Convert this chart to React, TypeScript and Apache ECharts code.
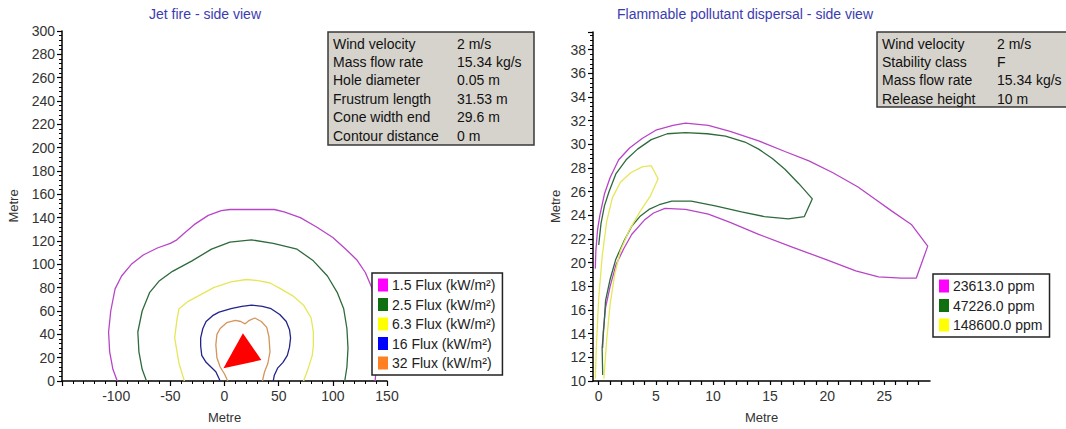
import React, { useEffect, useRef } from "react";
import * as echarts from "echarts";

// ---------- Data ----------
const fluxNames = [
  "1.5 Flux (kW/m²)",
  "2.5 Flux (kW/m²)",
  "6.3 Flux (kW/m²)",
  "16 Flux (kW/m²)",
  "32 Flux (kW/m²)",
];
const fluxColors = ["#ff00ff", "#107010", "#ffff00", "#0000ff", "#ff8020"];
const fluxLineColors = ["#b845c8", "#2e6a3a", "#e6e65a", "#23238c", "#d3955a"];

const flux15: number[][] = [
  [-99, 0], [-103, 10], [-106, 25], [-107, 42], [-105, 60], [-101, 79], [-95, 90],
  [-86, 100], [-75, 108], [-62, 114], [-50, 118], [-44, 121], [-38, 126], [-28, 134],
  [-15, 142], [-3, 146], [5, 147], [25, 147], [46, 147], [55, 145], [70, 140],
  [85, 132], [100, 123], [112, 113], [122, 104], [130, 93], [136, 80], [140, 60],
  [141, 40], [141, 20], [139, 0],
];
const flux25: number[][] = [
  [-72, 0], [-76, 10], [-79, 25], [-80, 42], [-76, 60], [-69, 76], [-60, 86],
  [-48, 94], [-30, 103], [-12, 113], [5, 119], [25, 121], [45, 118], [67, 113],
  [82, 103], [95, 90], [104, 76], [110, 62], [113, 45], [114, 28], [113, 12], [111, 0],
];
const flux63: number[][] = [
  [-37, 0], [-42, 15], [-46, 37], [-44, 52], [-42, 62], [-34, 68], [-24, 73],
  [-10, 80], [6, 85], [20, 87], [31, 86], [42, 84], [52, 79], [63, 73], [73, 65],
  [80, 54], [82, 42], [82, 30], [81, 22], [77, 10], [73, 0],
];
const flux16: number[][] = [
  [-4, 0], [-8, 8], [-17, 16], [-21, 22], [-22, 30], [-22, 37], [-20, 45], [-17, 51],
  [-11, 56], [-5, 59], [6, 62], [16, 64], [25, 65], [35, 64], [43, 62], [51, 57],
  [57, 51], [60, 44], [61, 37], [60, 29], [58, 22], [54, 16], [49, 11], [46, 5], [45, 0],
];
const flux32: number[][] = [
  [3, 0], [0, 6], [-4, 12], [-7, 20], [-8, 31], [-7, 40], [-4, 45], [2, 50], [10, 52],
  [15, 51], [19, 49], [23, 52], [28, 54], [34, 51], [39, 46], [41, 38], [42, 25],
  [40, 15], [37, 8], [35, 0],
];
const flameCone: number[][] = [[17, 41], [-1, 11], [34, 18]];

const ppmNames = ["23613.0 ppm", "47226.0 ppm", "148600.0 ppm"];
const ppmColors = ["#ff00ff", "#107010", "#ffff00"];
const ppmLineColors = ["#b845c8", "#2e6a3a", "#e6e65a"];

const ppm23613: number[][] = [
  [-0.3, 19.5], [-0.25, 21], [-0.1, 22.8], [0.1, 24], [0.5, 25.8], [1.0, 27.2],
  [1.75, 28.7], [2.7, 29.7], [3.8, 30.5], [5, 31.2], [6.5, 31.6], [7.6, 31.8],
  [9.6, 31.6], [11.5, 31.1], [14, 30.3], [16.3, 29.4], [18.4, 28.6], [20.5, 27.6],
  [22.7, 26.4], [24.3, 25.3], [25.6, 24.4], [27.4, 23.2], [28.8, 21.4], [27.8, 18.7],
  [26.5, 18.7], [24.5, 18.8], [22.5, 19.3], [19.8, 20.3], [17, 21.3], [14, 22.4],
  [11.5, 23.4], [9.6, 24.1], [7.6, 24.5], [5.8, 24.6], [4.8, 24.2], [4, 23.6],
  [2.9, 22.4], [2.2, 21.2], [1.5, 19.8], [1.0, 18], [0.6, 16.2], [0.4, 14.2], [0.35, 12.8],
];
const ppm47226: number[][] = [
  [0, 21.5], [0.2, 23.3], [0.5, 24.8], [0.9, 26], [1.5, 27.5], [2.4, 28.7], [3.4, 29.6],
  [4.6, 30.4], [6, 30.9], [7.6, 31.0], [9.5, 30.9], [11.1, 30.7], [12.8, 30.2],
  [14, 29.6], [15.2, 28.8], [16.3, 27.9], [17.5, 26.7], [18.7, 25.4], [18.0, 23.9],
  [16.6, 23.7], [14.5, 23.9], [12.5, 24.3], [10.2, 24.8], [8.1, 25.2], [6.4, 25.2],
  [5.3, 24.9], [4.4, 24.5], [3.6, 23.9], [2.9, 23.1], [2.2, 21.8], [1.5, 20.3],
  [1.0, 18.6], [0.6, 16.8], [0.45, 14.5], [0.3, 12.8], [0.35, 10.5],
];
const ppm148600: number[][] = [
  [-0.3, 10.2], [-0.2, 13], [0, 17], [0.3, 20.5], [0.7, 23.5], [1.2, 25.5], [1.9, 26.8],
  [2.8, 27.6], [3.8, 28.1], [4.6, 28.2], [5.2, 27.1], [4.5, 25.6], [3.6, 24.3],
  [2.7, 22.8], [1.9, 21], [1.4, 19], [1.0, 16.5], [0.7, 13.5], [0.45, 10.2],
];

const jetInfoLabels = ["Wind velocity", "Mass flow rate", "Hole diameter", "Frustrum length", "Cone width end", "Contour distance"];
const jetInfoValues = ["2 m/s", "15.34 kg/s", "0.05 m", "31.53 m", "29.6 m", "0 m"];
const dispInfoLabels = ["Wind velocity", "Stability class", "Mass flow rate", "Release height"];
const dispInfoValues = ["2 m/s", "F", "15.34 kg/s", "10 m"];

const rightXLabels = [0, 5, 10, 15, 20, 25];
const rightXTicks = [0, 1, 2, 3, 4, 5, 6, 7, 8, 9, 10, 11, 12, 13, 14, 15, 16, 17, 18, 19, 20, 21, 22, 23, 24, 25, 26, 27, 28];

// ---------- Chart ----------
const FONT = "'Liberation Sans', Arial, sans-serif";
const FS = 14;

function infoBox(x: number, y: number, w: number, h: number, labels: string[], values: string[], col2: number, rowH: number) {
  const children: any[] = [
    {
      type: "rect",
      shape: { x, y, width: w, height: h },
      style: { fill: "#d6d3cc", stroke: "#3a3a3a", lineWidth: 1.5 },
    },
  ];
  labels.forEach((t, i) => {
    children.push({
      type: "text",
      x: x + 5,
      y: y + 11.5 + i * rowH,
      style: { text: t, fill: "#111", font: `${FS}px ${FONT}`, verticalAlign: "middle" },
    });
    children.push({
      type: "text",
      x: x + col2,
      y: y + 11.5 + i * rowH,
      style: { text: values[i], fill: "#111", font: `${FS}px ${FONT}`, verticalAlign: "middle" },
    });
  });
  return { type: "group", children };
}

const axisCommon = {
  axisLine: { show: true, onZero: false, lineStyle: { color: "#000", width: 1.5 } },
  axisTick: { show: true, length: 5, lineStyle: { color: "#000", width: 1.2 } },
  minorTick: { show: true, splitNumber: 5, length: 3, lineStyle: { color: "#000", width: 1 } },
  splitLine: { show: false },
  minorSplitLine: { show: false },
  axisLabel: { color: "#333", fontSize: FS, fontFamily: FONT },
  nameTextStyle: { color: "#333", fontSize: FS - 1, fontFamily: FONT },
};

const legendCommon = {
  orient: "vertical",
  icon: "rect",
  itemWidth: 10,
  itemHeight: 13,
  itemGap: 5.5,
  padding: [5, 7, 5, 6],
  backgroundColor: "#ffffff",
  borderColor: "#222",
  borderWidth: 1.5,
  borderRadius: 0,
  selectedMode: false,
  textStyle: { color: "#222", fontSize: FS, fontFamily: FONT, padding: [0, 0, 0, -1] },
};

export default function App() {
  const ref = useRef<HTMLDivElement>(null);
  useEffect(() => {
    if (!ref.current) return;
    const chart = echarts.init(ref.current, null, { renderer: "svg" });
    const fluxData = [flux15, flux25, flux63, flux16, flux32];
    const ppmData = [ppm23613, ppm47226, ppm148600];
    const option: any = {
      animation: false,
      backgroundColor: "#ffffff",
      textStyle: { fontFamily: FONT },
      title: [
        {
          text: "Jet fire - side view",
          left: 200,
          top: 2,
          textAlign: "center",
          textStyle: { color: "#3c3cb0", fontSize: FS, fontWeight: "normal", fontFamily: FONT },
        },
        {
          text: "Flammable pollutant dispersal - side view",
          left: 740,
          top: 2,
          textAlign: "center",
          textStyle: { color: "#3c3cb0", fontSize: FS, fontWeight: "normal", fontFamily: FONT },
        },
      ],
      grid: [
        { left: 62, top: 31, width: 325, height: 352, containLabel: false },
        { left: 593, top: 32, width: 337, height: 351, containLabel: false },
      ],
      xAxis: [
        {
          ...axisCommon,
          type: "value",
          gridIndex: 0,
          min: -150,
          max: 150,
          interval: 50,
          name: "Metre",
          nameLocation: "middle",
          nameGap: 30,
          axisLabel: { ...axisCommon.axisLabel, showMinLabel: false, margin: 8 },
        },
        {
          ...axisCommon,
          type: "value",
          gridIndex: 1,
          min: -0.5,
          max: 29,
          name: "Metre",
          nameLocation: "middle",
          nameGap: 30,
          axisTick: { ...axisCommon.axisTick, length: 4, customValues: rightXTicks },
          minorTick: { show: false },
          axisLabel: { ...axisCommon.axisLabel, customValues: rightXLabels, margin: 8 },
        },
      ],
      yAxis: [
        {
          ...axisCommon,
          type: "value",
          gridIndex: 0,
          min: 0,
          max: 300,
          interval: 20,
          name: "Metre",
          nameLocation: "middle",
          nameGap: 42,
          axisLabel: { ...axisCommon.axisLabel, margin: 7 },
        },
        {
          ...axisCommon,
          type: "value",
          gridIndex: 1,
          min: 10,
          max: 39.5,
          interval: 2,
          name: "Metre",
          nameLocation: "middle",
          nameGap: 31,
          axisLabel: { ...axisCommon.axisLabel, showMaxLabel: false, margin: 7 },
        },
      ],
      legend: [
        { ...legendCommon, data: fluxNames, left: 372, top: 273 },
        { ...legendCommon, data: ppmNames, left: 933, top: 274 },
      ],
      graphic: [
        infoBox(328, 32, 206, 113, jetInfoLabels, jetInfoValues, 129, 18.4),
        infoBox(877, 32, 200, 75, dispInfoLabels, dispInfoValues, 120, 18.4),
      ],
      series: [
        ...fluxData.map((d, i) => ({
          type: "line",
          name: fluxNames[i],
          xAxisIndex: 0,
          yAxisIndex: 0,
          data: d,
          showSymbol: false,
          symbol: "none",
          itemStyle: { color: fluxColors[i] },
          lineStyle: { color: fluxLineColors[i], width: 1.3 },
          z: 3,
        })),
        {
          type: "custom",
          name: "Flame",
          xAxisIndex: 0,
          yAxisIndex: 0,
          data: flameCone,
          encode: { x: 0, y: 1 },
          renderItem: (params: any, api: any) => {
            if (params.dataIndex !== 0) return null;
            const pts = flameCone.map((p) => api.coord(p));
            return { type: "polygon", shape: { points: pts }, style: { fill: "#ff0000" } };
          },
          z: 4,
        },
        ...ppmData.map((d, i) => ({
          type: "line",
          name: ppmNames[i],
          xAxisIndex: 1,
          yAxisIndex: 1,
          data: d,
          showSymbol: false,
          symbol: "none",
          itemStyle: { color: ppmColors[i] },
          lineStyle: { color: ppmLineColors[i], width: 1.3 },
          z: 3,
        })),
      ],
    };
    chart.setOption(option);
    return () => chart.dispose();
  }, []);
  return (
    <div
      ref={ref}
      style={{ position: "fixed", left: 0, top: 0, width: 1066, height: 429, background: "#fff" }}
    />
  );
}
